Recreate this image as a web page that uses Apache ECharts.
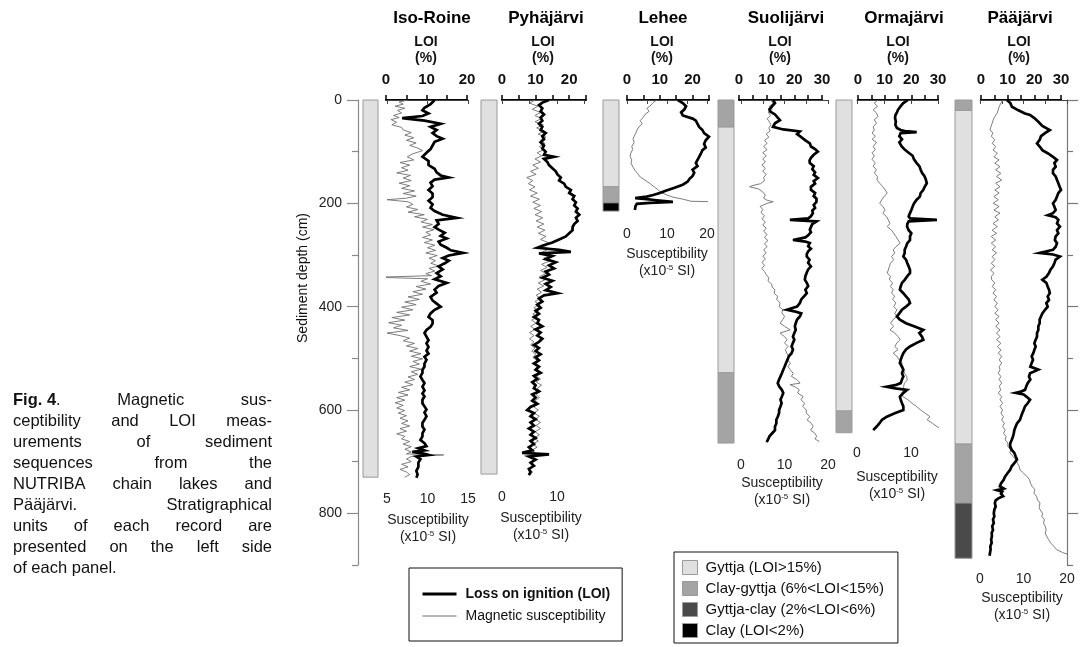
<!DOCTYPE html>
<html>
<head>
<meta charset="utf-8">
<script src="https://cdn.jsdelivr.net/npm/echarts@6/dist/echarts.min.js"></script>
<style>
  html, body { margin: 0; padding: 0; background: #fff; }
  #chart { width: 1088px; height: 647px; }
</style>
</head>
<body>
<div id="chart"></div>
<script>
// ---------------------------------------------------------------------------
// Down-core records: [depth (cm), value]. LOI in %, susceptibility in 1e-5 SI.
// ---------------------------------------------------------------------------
const isoRoineLoi = [[0,12],[8,11],[15,9.5],[20,9],[26,10.5],[31,9],[35,4],[40,9.5],[46,13.5],[52,11],[58,12.5],[64,11.5],[70,12.5],[75,14],[81,12],[88,11.5],[95,11],[102,10],[110,9],[118,10.5],[126,10.5],[133,12],[140,12.5],[146,13.5],[150,15.5],[154,12],[160,11],[167,11.5],[174,10.5],[181,11.5],[188,11.5],[195,10.5],[202,11.5],[209,11],[215,12],[222,14],[228,17.5],[233,12.5],[240,13],[246,12],[251,13],[257,14.5],[263,13.5],[268,15],[274,13],[280,13.5],[286,15],[291,16],[296,19],[301,15.5],[306,14],[311,15.5],[316,14.5],[322,13],[328,14],[335,12.5],[341,13.5],[347,12],[354,15],[360,13],[367,12],[373,12.5],[381,11],[388,11.5],[394,12.5],[400,13.5],[406,12],[413,11],[420,10.5],[426,11.5],[433,11.5],[439,11],[445,10],[451,9.5],[458,10],[465,10.5],[471,10],[478,10.5],[485,10],[491,10.5],[497,9.5],[503,10],[510,9.5],[516,9.5],[522,9],[528,9],[535,8.5],[542,9],[548,9.5],[555,9],[562,9.5],[568,9],[574,9.5],[580,9],[587,9],[593,9.5],[599,10],[605,9.5],[612,10],[619,9.5],[625,9],[632,9],[638,9.5],[645,9],[651,9],[658,8.5],[664,9.5],[670,10],[674,8],[678,9.5],[681,6.5],[684,9],[687,10.5],[690,7.5],[695,8.5],[702,8],[710,8],[718,7.5],[725,7.8],[731,7.5]];
const isoRoineSus = [[0,7.5],[4,6.5],[8,7],[12,6],[16,7.2],[20,6.3],[25,6.8],[30,5.8],[34,6.5],[38,5.5],[43,6.2],[48,5.6],[53,6.8],[58,7],[63,8],[68,7.2],[73,8.3],[78,7.4],[83,8.6],[88,7.8],[93,8.8],[98,9.4],[104,8.2],[110,7.5],[116,8.3],[121,6.6],[126,7.8],[131,6.8],[136,7.6],[141,6.2],[146,7.9],[151,7],[156,8],[161,6.5],[166,7.8],[171,6.8],[176,8.4],[181,7],[186,8.6],[190,7.4],[193,5],[197,7.6],[202,8.2],[207,7.4],[212,8.8],[217,7.6],[222,9.6],[226,8.4],[231,10],[236,9.2],[241,10.6],[246,9.4],[251,10.8],[256,9.8],[261,10.4],[266,9.4],[271,10.6],[276,9.6],[281,10.9],[286,10],[291,11],[296,9.8],[301,11.2],[306,10.2],[311,11],[316,10.4],[321,11.4],[326,10.2],[331,10.9],[336,9.8],[340,10.5],[343,3.8],[346,10],[351,9.2],[356,10.4],[361,8.6],[366,9.8],[371,8.2],[376,9.4],[381,7.6],[386,9],[391,7.2],[396,8.6],[401,6.8],[406,8.2],[411,6.2],[416,7.8],[421,5.6],[426,7.2],[431,5.2],[436,6.8],[441,5.8],[446,7.6],[451,5],[456,6.6],[461,7.8],[466,7],[471,8.4],[476,7.4],[481,8.8],[486,7.8],[491,9.2],[496,8],[501,9.4],[506,8.2],[511,9],[516,7.8],[521,9.2],[526,8],[531,8.8],[536,7.6],[541,8.4],[546,7.2],[551,8.2],[556,6.8],[561,7.8],[566,6.4],[571,7.6],[576,6.2],[581,7.2],[586,6],[591,7],[596,6.2],[601,7.2],[606,6.4],[611,7.4],[616,6.6],[621,7.6],[626,6.8],[631,7.8],[636,6.6],[641,7.4],[646,6.2],[651,7.2],[656,6.8],[661,7.8],[666,7],[671,8],[676,7.2],[681,8],[685,7.4],[687,12],[690,8],[695,7.4],[700,8],[705,6.8],[710,7.6],[715,6.6],[720,7.4],[725,7.8],[730,7.2]];

const pyhajarviLoi = [[0,14],[5,12],[10,11],[16,12],[22,11.5],[28,12.5],[34,11.5],[40,12],[46,11],[52,12],[58,11.5],[64,13],[70,12],[76,12.5],[82,11.5],[88,12.5],[94,12],[100,13],[106,12.5],[110,15.5],[114,12.5],[120,13.5],[126,14],[132,15],[138,16],[144,16.5],[150,17.5],[156,17],[162,18.5],[168,19],[174,20.5],[180,20],[186,21.5],[192,21],[198,22],[204,21.5],[210,22.5],[216,22],[222,23],[228,22],[234,22.5],[240,21.5],[246,21],[252,21],[258,20],[264,19],[270,17],[276,15],[282,12],[286,10.5],[290,17],[294,20.5],[297,11],[302,15],[308,13],[314,16],[320,14],[326,15.5],[332,13],[338,14],[344,12],[350,15],[356,13],[362,14.5],[368,13],[374,16.5],[378,12.5],[384,11],[390,12],[396,10.5],[402,11.5],[408,10],[414,11],[420,9.5],[426,11],[432,10.5],[438,12],[444,10],[450,11.5],[456,10.5],[462,12],[468,11],[474,9.5],[480,11],[486,10],[492,11.5],[498,10],[504,11],[510,9.5],[516,11],[522,10],[528,11.5],[534,9.5],[540,10.5],[546,9],[552,10],[558,9.5],[564,11],[570,9],[576,10],[582,9],[588,10.5],[594,8.5],[600,7.5],[606,9.5],[612,8.5],[618,10],[624,8.5],[630,9.5],[636,8],[642,9.5],[648,8.5],[654,10],[660,8.5],[666,9.5],[672,8],[678,9],[683,6],[686,14],[690,8],[696,10],[702,8.5],[708,9.5],[714,8],[720,8.5],[726,8]];
const pyhajarviSus = [[0,6],[6,5],[12,6.5],[18,5.5],[24,7],[30,6],[36,7.2],[42,6],[48,7.5],[54,6.3],[60,7.6],[66,6.6],[72,8],[78,7],[84,7.8],[90,6.8],[96,7.6],[102,6.4],[108,7.2],[114,6],[120,7],[126,5.6],[132,6.6],[138,5.2],[144,6.2],[150,4.5],[156,5.6],[162,4.8],[168,6],[174,5],[180,6.4],[186,5.2],[192,6.8],[198,5.6],[204,7],[210,5.8],[216,7.2],[222,6],[228,7.4],[234,6.2],[240,7.6],[246,6.4],[252,7.8],[258,6.6],[264,8],[270,7],[276,8.4],[282,7.2],[288,8.6],[294,7.4],[300,8.8],[306,7.6],[312,8.6],[318,7.2],[324,8.2],[330,7],[336,8],[342,6.8],[348,7.8],[354,6.6],[360,7.6],[366,6.4],[372,7.2],[378,6.2],[384,7],[390,6],[396,6.8],[402,5.8],[408,6.6],[414,5.6],[420,6.4],[426,5.4],[432,6.2],[438,5.2],[444,6],[450,5],[456,5.8],[462,5],[468,5.8],[474,5.2],[480,6],[486,5.4],[492,6.2],[498,5.6],[504,6.4],[510,5.8],[516,6.6],[522,6],[528,6.8],[534,6.2],[540,7],[546,6.2],[552,7.2],[558,6.4],[564,7],[570,6.2],[576,6.8],[582,6],[588,6.6],[594,5.8],[600,6.6],[606,5.8],[612,6.8],[618,6],[624,7],[630,6.2],[636,7],[642,6],[648,6.8],[654,5.8],[660,6.6],[666,5.6],[672,6.4],[678,5.4],[684,6.2],[690,5.2],[696,6],[702,5],[708,5.8],[714,4.8],[720,5.6],[726,5]];

const leheeLoi = [[0,15.5],[6,17],[12,18],[18,17.5],[24,16.5],[30,17],[36,20],[40,21],[46,21.5],[52,22],[58,23],[64,23.5],[71,25],[78,24],[85,23.5],[92,24],[97,23],[104,22.5],[110,22],[116,21.5],[122,21],[128,21.5],[135,20],[141,20.5],[147,20],[153,19],[158,18.5],[164,17],[170,14.5],[175,12],[180,10],[184,8],[187,6],[190,2.5],[192,6],[194,9],[197,14],[199,7],[201,3],[205,2.6],[213,2.4]];
const leheeSus = [[0,7.5],[5,6.5],[10,6],[16,5],[22,5.5],[28,4.5],[34,4],[40,3.3],[46,3.8],[52,3],[58,2.5],[64,2.2],[70,1.8],[76,1.5],[82,1.8],[90,1.2],[96,1.4],[104,0.9],[110,0.8],[116,1.2],[122,1],[130,1.5],[136,2],[142,2.6],[149,3.3],[155,4.5],[162,5.8],[168,6.8],[174,7.8],[178,8.3],[184,10],[188,11.5],[192,14],[194,15],[196,16],[197,22.5]];

const suolijarviLoi = [[0,12.3],[6,13],[12,12],[18,11],[22,11.2],[28,13],[34,14],[39,14.8],[45,13],[52,12.3],[57,16],[61,22],[66,21],[72,22.5],[78,24],[84,25.6],[90,26],[95,27.5],[100,28.5],[106,27],[112,26],[117,25.5],[122,25.6],[128,27],[134,26.5],[140,27.5],[145,27],[151,28.5],[157,27],[162,27.5],[168,26],[174,26],[180,27.5],[186,27],[191,28],[197,28],[203,27],[209,27.5],[214,26.5],[219,26.7],[225,26],[229,25],[232,18.4],[235,28],[240,26.5],[246,26],[251,25.6],[256,26],[262,25],[266,24],[271,19.5],[274,24],[277,25.6],[283,25],[288,26],[293,25],[298,24.5],[303,24.5],[309,25.5],[315,25],[322,26],[328,25],[334,24.5],[341,24],[348,23.8],[354,24.5],[360,25],[367,24],[374,24.5],[380,23.5],[386,22.5],[393,22],[400,21],[403,19],[406,17.3],[409,20],[413,22.5],[419,22],[425,21],[432,20.5],[438,20.2],[445,20.5],[451,20],[458,19.5],[464,20],[470,19.5],[477,19],[483,19.5],[490,19],[496,18],[503,17.5],[509,17],[516,16.5],[522,16],[529,15.5],[535,15],[541,14.5],[548,14],[554,14.5],[561,15.5],[567,16],[574,15.5],[580,15],[587,15.4],[593,15],[600,14.5],[606,14.5],[613,14],[619,13.5],[626,13.5],[632,13],[639,13],[645,12],[651,11],[657,10.5],[662,10]];
const suolijarviSus = [[0,6.7],[6,7.4],[12,6.5],[18,7.2],[24,6.3],[30,6.8],[36,6],[42,6.5],[48,6.9],[54,6.4],[60,6.7],[66,5.8],[72,6.4],[78,5.4],[84,6],[90,5.2],[96,6],[102,5],[108,5.8],[114,5],[120,5.6],[126,4.8],[132,5.6],[138,5],[144,5.8],[150,5.2],[156,5.4],[162,4.5],[166,2.5],[168,2],[172,4],[178,5],[184,5.6],[190,5.2],[194,6],[197,7.4],[200,6],[206,4.4],[212,5],[218,4.6],[224,5.4],[230,4.8],[236,5.6],[242,5],[248,5.8],[254,5.2],[260,6],[266,5.4],[272,6.2],[278,5.4],[284,6],[290,5.2],[296,5.8],[302,5],[308,5.6],[314,4.8],[320,5.4],[326,4.8],[332,5.4],[338,5.8],[344,6.4],[350,6.2],[356,7],[362,7.2],[368,7.8],[374,7.6],[380,8.4],[386,8.2],[393,9],[400,8.8],[406,9.6],[412,9.4],[419,10],[425,9.6],[432,9],[438,10],[445,11.3],[451,9],[458,10],[464,10.6],[470,10],[477,10.8],[483,10.2],[490,10.5],[496,11],[503,10.6],[509,11.4],[516,10.8],[522,11.3],[529,12],[535,11.6],[541,12.8],[548,13.6],[551,11.3],[556,12.6],[561,13.4],[567,13],[574,14.3],[580,13.8],[587,14.6],[593,14.2],[600,15],[606,15],[613,15.8],[619,15.2],[626,16.2],[632,16.6],[639,16],[645,17],[651,17.4],[656,17],[661,18]];

const ormajarviLoi = [[0,18.7],[6,17],[12,16],[19,15],[25,14.5],[30,14],[35,13.9],[42,14.2],[48,14],[54,14.6],[58,16],[60,17.6],[62,22],[64,16],[70,15.5],[76,16.5],[82,15.5],[90,16.4],[96,17.5],[102,19],[108,20.5],[115,21],[122,22],[128,23],[135,23.5],[141,24],[148,25],[155,25.5],[161,25.8],[168,25],[174,24.5],[180,23.5],[187,23.2],[193,22],[200,21],[206,20.5],[213,20],[219,19.5],[225,19],[229,19.5],[232,29.6],[235,19],[240,18.5],[245,18.4],[252,19],[258,20],[264,19.5],[271,19.5],[277,18.5],[284,18],[290,17.5],[296,17.5],[303,17],[309,18],[316,18.5],[322,19],[329,19.5],[335,19.5],[341,18.5],[348,17.5],[354,16.5],[361,16],[367,15.7],[374,17],[380,18],[386,19],[393,19.5],[400,18],[406,16.5],[413,15.5],[419,14.6],[425,15.7],[432,18],[438,21],[445,24.5],[451,23],[458,24],[464,24.5],[470,22],[477,19.5],[483,18],[490,17],[496,16.5],[503,16],[509,15.7],[516,16.5],[522,17],[529,16.5],[535,17],[541,16.5],[548,16],[552,14],[555,10.8],[558,14],[561,18.4],[567,17],[574,15.7],[580,16],[587,16.5],[593,17],[600,17],[606,14],[613,10.8],[619,9],[626,8],[632,7],[639,5.7]];
const ormajarviSus = [[0,3.9],[6,3.2],[12,3.8],[19,3],[25,3.6],[32,3.9],[38,3.2],[45,3.6],[52,3],[58,3.2],[64,2.8],[70,3.4],[76,2.8],[82,3.6],[90,3],[96,3.4],[102,2.8],[108,3.2],[115,2.8],[122,3.4],[128,3],[135,3.6],[141,3.2],[148,3.8],[155,3.7],[161,4.2],[168,4.8],[174,5.2],[180,5.6],[187,5],[193,4.6],[200,4.2],[206,4.8],[213,5.2],[219,4.8],[225,5.4],[232,5.8],[239,6.1],[245,5.6],[252,6.4],[258,6.8],[264,7.2],[271,7.6],[277,8],[284,7.2],[290,6.7],[296,7],[303,6.4],[309,6.8],[316,6.2],[322,6],[329,5.8],[335,5.6],[341,6.2],[348,6],[354,6.6],[361,6.2],[367,6.7],[374,6.4],[380,7],[386,6.6],[393,7.2],[400,6.8],[406,7.4],[413,7],[419,7.4],[425,6.7],[432,6.2],[438,6.8],[445,6.1],[451,7],[458,7.6],[464,8],[470,7.4],[477,7],[483,7.6],[490,6.7],[496,7.4],[503,7.8],[509,8.4],[516,8],[522,8.6],[529,8.8],[535,9.2],[542,9.3],[548,8.8],[555,8.6],[561,8.8],[567,8.2],[574,8.5],[580,9.4],[587,10.2],[593,11],[600,11.8],[606,12.6],[613,13.5],[619,13],[626,14],[632,14.8],[639,16]];

const paajarviLoi = [[0,9.7],[6,11],[13,11.6],[20,14],[26,16.5],[29,18.4],[35,20],[42,21.5],[50,23],[58,25.8],[64,24],[70,22.5],[77,22],[84,21],[90,22],[97,23],[103,25],[110,27],[116,28.5],[122,27.5],[129,28],[135,27],[142,27],[148,28],[155,28.5],[161,29],[168,29.5],[174,30],[180,29],[187,28.5],[193,28],[200,27],[206,27.5],[213,28],[219,27],[223,25],[227,28],[232,29],[239,28.5],[245,29.6],[252,28.5],[258,29],[264,28],[271,27.7],[277,28.5],[284,28],[290,27],[296,22],[299,27],[303,29.6],[309,28],[316,27.5],[322,27],[329,26],[335,25.5],[342,24.5],[348,23],[354,24.5],[361,25],[367,25.5],[374,25.8],[380,25],[387,25.5],[393,24.5],[400,25],[406,24],[413,23],[419,22.5],[425,22],[432,22],[438,21.5],[445,21.5],[451,21],[458,21],[464,20.5],[471,20],[477,20.5],[484,20],[490,19.6],[496,19],[503,19.5],[509,19],[516,18.5],[522,21.5],[529,18.4],[535,18],[541,18.5],[548,17.5],[554,17],[561,16.5],[565,14.6],[567,13],[570,16],[574,17],[580,18.4],[587,17.5],[593,16.5],[600,16],[606,15.5],[613,15],[619,14.6],[626,13.5],[632,13],[639,12.5],[645,12.3],[651,12],[658,11.5],[664,11],[670,10.9],[677,11.5],[683,12.5],[690,13],[696,13.5],[703,12.5],[709,11.5],[716,10.9],[722,10],[729,9],[735,8.5],[742,7.5],[748,7.1],[752,8.5],[755,6],[758,8],[762,7.5],[767,8.3],[771,6.5],[775,5.5],[780,5.2],[787,5.5],[793,5],[800,4.8],[806,5],[812,4.5],[819,4.8],[825,4.2],[832,4.5],[838,4],[844,4.1],[851,3.8],[857,4],[864,3.5],[870,3.6],[876,3.4],[882,3.2]];
const paajarviSus = [[0,5.3],[6,4.8],[13,4.4],[19,4.2],[26,3.9],[32,3.4],[39,3],[45,2.8],[52,2.5],[58,2.3],[64,3],[70,2.6],[77,3.4],[84,2.8],[90,3.6],[97,3],[103,4],[110,3.2],[116,4.4],[122,3.4],[129,4.6],[135,3.6],[142,4.8],[148,3.8],[155,5],[161,3.6],[168,4.6],[174,3.4],[180,4.4],[187,3.2],[193,4.2],[200,3],[206,4.4],[213,3.2],[219,4.6],[226,3.4],[232,4.2],[239,3],[245,4],[252,2.8],[258,3.8],[264,2.6],[271,3.6],[277,2.6],[284,3.6],[290,2.8],[296,3.8],[303,2.8],[309,3.4],[316,2.6],[322,3.4],[329,2.4],[335,3.2],[342,2.6],[348,2.7],[354,3.4],[361,2.8],[367,3.6],[374,3],[380,3.8],[387,3.2],[393,4],[400,3.4],[406,4.2],[413,3.4],[419,4.4],[425,3.6],[432,4.4],[438,3.6],[445,4.6],[451,3.8],[458,4.6],[464,3.8],[471,4.8],[477,4],[484,4.8],[490,4.2],[496,5],[503,4.4],[509,5],[516,4.4],[522,4.6],[529,4.2],[535,4.8],[541,4.4],[548,5],[554,4.4],[561,4.8],[567,4.2],[574,5],[580,4.6],[587,5.2],[593,4.6],[600,5.2],[606,4.8],[613,5.4],[619,5],[626,5.6],[632,5.2],[639,5.8],[645,5.4],[651,6],[658,5.8],[664,6.4],[670,6.4],[677,7],[683,6.9],[690,7.6],[696,8.2],[703,8.6],[709,9],[716,9.2],[722,10],[729,10.8],[735,11.4],[742,11.6],[748,12],[754,12.6],[761,12.4],[767,13],[774,13.2],[780,13.8],[787,13.6],[793,13.8],[800,14.4],[806,14.2],[812,14.8],[819,14.6],[825,15],[832,15.2],[838,15],[844,15.3],[851,15.8],[857,16.2],[864,17],[870,17.6],[876,19],[880,20.5],[883,21.4]];

// Stratigraphical units: [top (cm), bottom (cm), unit]
const isoRoineUnits   = [[0, 730, 'gyttja']];
const pyhajarviUnits  = [[0, 724, 'gyttja']];
const leheeUnits      = [[0, 168, 'gyttja'], [168, 199, 'clayGyttja'], [199, 215, 'clay']];
const suolijarviUnits = [[0, 52, 'clayGyttja'], [52, 528, 'gyttja'], [528, 664, 'clayGyttja']];
const ormajarviUnits  = [[0, 602, 'gyttja'], [602, 644, 'clayGyttja']];
const paajarviUnits   = [[0, 20, 'clayGyttja'], [20, 666, 'gyttja'], [666, 780, 'clayGyttja'], [780, 887, 'gyttjaClay']];

const lakeNames = ['Iso-Roine', 'Pyhäjärvi', 'Lehee', 'Suolijärvi', 'Ormajärvi', 'Pääjärvi'];
const depthMajorTicks = [0, 200, 400, 600, 800];
const depthMinorTicks = [100, 300, 500, 700, 900];

const unitNames = {
  gyttja: 'Gyttja (LOI>15%)',
  clayGyttja: 'Clay-gyttja (6%<LOI<15%)',
  gyttjaClay: 'Gyttja-clay (2%<LOI<6%)',
  clay: 'Clay (LOI<2%)'
};
const loiName = 'Loss on ignition (LOI)';
const susName = 'Magnetic susceptibility';

// '**' toggles bold; a no-break space keeps "Fig. 4" together
const captionLines = [
  '**Fig.\u00a04**. Magnetic sus-',
  'ceptibility and LOI meas-',
  'urements of sediment',
  'sequences from the',
  'NUTRIBA chain lakes and',
  'Pääjärvi. Stratigraphical',
  'units of each record are',
  'presented on the left side',
  'of each panel.'
];

// ---------------------------------------------------------------------------
// Layout and styling
// ---------------------------------------------------------------------------
const FONT = '"Liberation Sans", Arial, Helvetica, sans-serif';
const TOP = 100;              // y of depth 0
const AXIS_PX = 465;          // pixel length of the 0–900 cm depth axis
const DEPTH_MAX = 900;
const PX_PER_CM = AXIS_PX / DEPTH_MAX;

const unitFill = {
  gyttja: '#e0e0e0',
  clayGyttja: '#a4a4a4',
  gyttjaClay: '#4a4a4a',
  clay: '#000000'
};

const records = [
  { loi: isoRoineLoi, sus: isoRoineSus, units: isoRoineUnits },
  { loi: pyhajarviLoi, sus: pyhajarviSus, units: pyhajarviUnits },
  { loi: leheeLoi, sus: leheeSus, units: leheeUnits },
  { loi: suolijarviLoi, sus: suolijarviSus, units: suolijarviUnits },
  { loi: ormajarviLoi, sus: ormajarviSus, units: ormajarviUnits },
  { loi: paajarviLoi, sus: paajarviSus, units: paajarviUnits }
];

// Per-panel geometry: strat column, LOI axis (top), susceptibility axis (bottom)
const layout = [
  { titleX: 432, nameX: 426, strat: [363, 378], loiAx: [386, 467, 0, 20], susAx: [387, 468, 5, 15], susStep: 5,  bottom: 479, susMargin: 13, susNameX: 428, susNameY: 520 },
  { titleX: 546, nameX: 543, strat: [481, 497], loiAx: [502, 586, 0, 25], susAx: [502, 584.5, 0, 15], susStep: 10, bottom: 478, susMargin: 12, susNameX: 541, susNameY: 518 },
  { titleX: 663, nameX: 662, strat: [603, 619], loiAx: [627, 709, 0, 25], susAx: [627, 707, 0, 20], susStep: 10, bottom: 213, susMargin: 14, susNameX: 667, susNameY: 254 },
  { titleX: 786, nameX: 780, strat: [718, 734], loiAx: [739, 822, 0, 30], susAx: [741, 828, 0, 20], susStep: 10, bottom: 449, susMargin: 9,  susNameX: 782, susNameY: 483 },
  { titleX: 904, nameX: 898, strat: [836, 852], loiAx: [858, 938, 0, 30], susAx: [857, 938, 0, 15], susStep: 10, bottom: 437, susMargin: 9,  susNameX: 897, susNameY: 477 },
  { titleX: 1020, nameX: 1019, strat: [955, 972], loiAx: [981, 1061, 0, 30], susAx: [980, 1067, 0, 20], susStep: 10, bottom: 563, susMargin: 9, susNameX: 1022, susNameY: 598 }
];

const grid = [], xAxis = [], yAxis = [], series = [], graphic = [];

function addGrid(left, right, bottom) {
  grid.push({ left: left, width: right - left, top: TOP, height: bottom - TOP, outerBoundsMode: 'none' });
  return grid.length - 1;
}
function depthAxis(gridIndex, max) {
  yAxis.push({ gridIndex: gridIndex, type: 'value', min: 0, max: max, inverse: true, show: false });
  return yAxis.length - 1;
}
function text(x, y, str, opts, extra) {
  graphic.push(Object.assign({
    type: 'text', x: x, y: y, silent: true,
    style: Object.assign({
      text: str, fontFamily: FONT, fontSize: 14, fill: '#111',
      align: 'center', verticalAlign: 'middle'
    }, opts || {})
  }, extra || {}));
}

function renderUnit(params, api) {
  const a = api.coord([0, api.value(0)]);
  const b = api.coord([1, api.value(1)]);
  return {
    type: 'rect',
    shape: { x: a[0], y: a[1], width: b[0] - a[0], height: b[1] - a[1] },
    style: { fill: api.visual('color'), stroke: '#9a9a9a', lineWidth: 1 }
  };
}

records.forEach(function (rec, i) {
  const L = layout[i];

  // Stratigraphical column
  const gs = addGrid(L.strat[0], L.strat[1], TOP + AXIS_PX);
  xAxis.push({ gridIndex: gs, type: 'value', min: 0, max: 1, show: false });
  const xs = xAxis.length - 1;
  const ys = depthAxis(gs, DEPTH_MAX);
  Object.keys(unitNames).forEach(function (kind) {
    const rows = rec.units.filter(function (u) { return u[2] === kind; });
    if (!rows.length) return;
    series.push({
      type: 'custom', name: unitNames[kind], xAxisIndex: xs, yAxisIndex: ys,
      itemStyle: { color: unitFill[kind] }, renderItem: renderUnit, silent: true,
      data: rows.map(function (u) { return [u[0], u[1]]; })
    });
  });

  const bottomDepth = (L.bottom - TOP) / PX_PER_CM;

  // LOI (top axis)
  const gl = addGrid(L.loiAx[0], L.loiAx[1], L.bottom);
  xAxis.push({
    gridIndex: gl, type: 'value', position: 'top', min: L.loiAx[2], max: L.loiAx[3], interval: 5,
    axisLine: { show: true, lineStyle: { color: '#000', width: 2 } },
    axisTick: { show: true, length: 5, lineStyle: { color: '#000', width: 1.5 } },
    axisLabel: {
      show: true, margin: 13, fontFamily: FONT, fontSize: 15, fontWeight: 'bold', color: '#111',
      formatter: function (v) { return v % 10 === 0 ? String(v) : ''; }
    },
    splitLine: { show: false }
  });
  const xl = xAxis.length - 1;
  const yl = depthAxis(gl, bottomDepth);

  // Susceptibility (bottom axis)
  const gm = addGrid(L.susAx[0], L.susAx[1], L.bottom);
  xAxis.push({
    gridIndex: gm, type: 'value', position: 'bottom', min: L.susAx[2], max: L.susAx[3], interval: 5,
    axisLine: { show: true, lineStyle: { color: '#444', width: 1 } },
    axisTick: { show: true, length: 4, lineStyle: { color: '#444', width: 1 } },
    axisLabel: {
      show: true, margin: L.susMargin, fontFamily: FONT, fontSize: 14, color: '#222',
      formatter: function (v) { return v % L.susStep === 0 ? String(v) : ''; }
    },
    splitLine: { show: false }
  });
  const xm = xAxis.length - 1;
  const ym = depthAxis(gm, bottomDepth);

  series.push({
    type: 'line', name: susName, xAxisIndex: xm, yAxisIndex: ym, clip: false,
    symbol: 'none', silent: true, z: 3,
    itemStyle: { color: '#6e6e6e' },
    lineStyle: { color: '#6e6e6e', width: 0.9 },
    data: rec.sus.map(function (d) { return [d[1], d[0]]; })
  });
  series.push({
    type: 'line', name: loiName, xAxisIndex: xl, yAxisIndex: yl, clip: false,
    symbol: 'none', silent: true, z: 4,
    itemStyle: { color: '#000' },
    lineStyle: { color: '#000', width: 2.7, join: 'miter', miterLimit: 6 },
    data: rec.loi.map(function (d) { return [d[1], d[0]]; })
  });

  // Titles and axis names
  text(L.titleX, 18, lakeNames[i], { fontSize: 17, fontWeight: 'bold', fill: '#000' });
  text(L.nameX, 42, 'LOI', { fontSize: 14, fontWeight: 'bold' });
  text(L.nameX, 58, '(%)', { fontSize: 14, fontWeight: 'bold' });
  text(L.susNameX, L.susNameY, 'Susceptibility', { fontSize: 14, fill: '#222' });
  text(L.susNameX, L.susNameY + 17, '(x10{s|-5} SI)', {
    fontSize: 14, fill: '#222',
    rich: { s: { fontSize: 8, fontFamily: FONT, fill: '#222', verticalAlign: 'top', lineHeight: 14 } }
  });
});

// Shared depth axis on the left and tick-only mirror on the right of Pääjärvi.
// Major and minor tick sets sit in their own (coincident) grids.
function frameAxis(edgeX, side, color, withLabels) {
  [[depthMajorTicks, 11, true], [depthMinorTicks, 6, false]].forEach(function (set) {
    const left = side === 'left' ? edgeX : edgeX - 10;
    const g = grid.push({ left: left, width: 10, top: TOP, height: AXIS_PX, outerBoundsMode: 'none' }) - 1;
    xAxis.push({ gridIndex: g, type: 'value', show: false, min: 0, max: 1 });
    yAxis.push({
      gridIndex: g, type: 'value', position: side, min: 0, max: DEPTH_MAX, inverse: true,
      axisLine: { show: set[2], lineStyle: { color: color, width: 1.2 } },
      axisTick: { show: true, length: set[1], customValues: set[0], lineStyle: { color: color, width: 1.2 } },
      axisLabel: {
        show: withLabels && set[2], customValues: set[0], margin: 16,
        fontFamily: FONT, fontSize: 14, color: '#222'
      },
      splitLine: { show: false }
    });
  });
}
frameAxis(358, 'left', '#8a8a8a', true);
frameAxis(1077, 'right', '#777', false);

text(303, 278, 'Sediment depth (cm)', { fontSize: 14, fill: '#111' }, { rotation: Math.PI / 2 });

// Caption on the left, justified line by line
(function () {
  const size = 16.5, left = 13, width = 259, top = 400, lh = 21;
  const ctx = document.createElement('canvas').getContext('2d');
  function w(s, bold) { ctx.font = (bold ? 'bold ' : '') + size + 'px ' + FONT; return ctx.measureText(s).width; }
  captionLines.forEach(function (line, li) {
    const words = [];
    let bold = false;
    line.split(' ').forEach(function (tok) {
      const pieces = [];
      tok.split('**').forEach(function (part, k) {
        if (k > 0) bold = !bold;
        if (part) pieces.push([part, bold]);
      });
      words.push(pieces);
    });
    const widths = words.map(function (p) { return p.reduce(function (s, q) { return s + w(q[0], q[1]); }, 0); });
    const total = widths.reduce(function (a, b) { return a + b; }, 0);
    const last = li === captionLines.length - 1;
    const gap = (!last && words.length > 1) ? (width - total) / (words.length - 1) : w(' ', false);
    let x = left;
    words.forEach(function (p, k) {
      let px = x;
      p.forEach(function (q) {
        graphic.push({
          type: 'text', x: px, y: top + li * lh, silent: true,
          style: { text: q[0], fontFamily: FONT, fontSize: size, fontWeight: q[1] ? 'bold' : 'normal', fill: '#111', align: 'left', verticalAlign: 'middle' }
        });
        px += w(q[0], q[1]);
      });
      x += widths[k] + gap;
    });
  });
})();

const hidden = { color: 'rgba(0,0,0,0)', borderWidth: 0, opacity: 0 };

const chart = echarts.init(document.getElementById('chart'), null, { renderer: 'canvas' });
chart.setOption({
  backgroundColor: '#fff',
  animation: false,
  textStyle: { fontFamily: FONT },
  grid: grid, xAxis: xAxis, yAxis: yAxis, series: series, graphic: graphic,
  legend: [
    {
      data: [
        { name: loiName, textStyle: { fontWeight: 'bold' }, itemStyle: hidden, lineStyle: { width: 3, color: '#000' } },
        { name: susName, itemStyle: hidden, lineStyle: { width: 1, color: '#6e6e6e' } }
      ],
      orient: 'vertical', left: 409, top: 568, height: 120, itemWidth: 34, itemHeight: 14, itemGap: 8,
      padding: [19, 12, 18, 12], borderColor: '#111', borderWidth: 1, selectedMode: false,
      textStyle: { fontFamily: FONT, fontSize: 14, color: '#111', padding: [0, 0, 0, 4] }
    },
    {
      data: Object.keys(unitNames).map(function (k) { return { name: unitNames[k], icon: 'rect' }; }),
      orient: 'vertical', left: 674, top: 552, height: 140, itemWidth: 15, itemHeight: 14, itemGap: 6,
      padding: [8, 14, 5, 8], borderColor: '#111', borderWidth: 1, selectedMode: false,
      itemStyle: { borderColor: '#9a9a9a', borderWidth: 1 },
      textStyle: { fontFamily: FONT, fontSize: 15, color: '#111', padding: [0, 0, 0, 3] }
    }
  ]
});
</script>
</body>
</html>
